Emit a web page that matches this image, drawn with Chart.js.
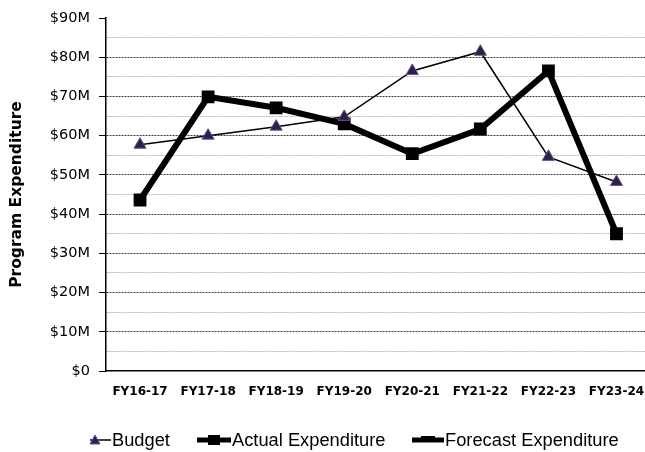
<!DOCTYPE html>
<html lang="en">
<head>
    <meta charset="UTF-8">
    <title>Program Expenditure</title>
    <style>
        body {
            margin: 0;
            background: #ffffff;
        }
        #wrap {
            width: 645px;
            height: 452px;
            overflow: hidden;
        }
    </style>
    <script src="https://cdn.jsdelivr.net/npm/chart.js"></script>
</head>
<body>

<div id="wrap">
    <canvas id="myChart" width="660" height="452"></canvas>
</div>

<script>
    // values in $M
    const categories = ['FY16-17', 'FY17-18', 'FY18-19', 'FY19-20', 'FY20-21', 'FY21-22', 'FY22-23', 'FY23-24'];
    const budget = [57.7, 60.0, 62.3, 64.8, 76.5, 81.4, 54.6, 48.2];
    const actual = [43.6, 69.9, 67.1, 63.0, 55.4, 61.7, 76.5, null];
    const forecast = [null, null, null, null, null, null, 76.5, 35.0];
    const yTicks = [0, 10, 20, 30, 40, 50, 60, 70, 80, 90];

    const WIDE = '"DejaVu Sans", sans-serif';
    const ARIAL = '"Liberation Sans", Arial, sans-serif';

    // legend under the plot, line + marker swatches
    const bottomLegend = {
        id: 'bottomLegend',
        afterDraw(chart) {
            const ctx = chart.ctx;
            const y = 440;
            const sets = chart.data.datasets;
            ctx.save();
            ctx.font = '18.3px ' + ARIAL;
            ctx.textBaseline = 'middle';

            // Budget
            ctx.strokeStyle = '#000';
            ctx.lineWidth = 1.5;
            ctx.beginPath(); ctx.moveTo(90, y); ctx.lineTo(111, y); ctx.stroke();
            ctx.beginPath();
            ctx.moveTo(95, y - 5); ctx.lineTo(100, y + 4); ctx.lineTo(90, y + 4); ctx.closePath();
            ctx.fillStyle = '#2b2140'; ctx.fill();
            ctx.strokeStyle = '#6b4c9a'; ctx.lineWidth = 1; ctx.stroke();
            ctx.fillStyle = '#000';
            ctx.fillText(sets[0].label, 112, y + 1);

            // Actual
            ctx.strokeStyle = '#000';
            ctx.lineWidth = 5;
            ctx.beginPath(); ctx.moveTo(197, y); ctx.lineTo(231, y); ctx.stroke();
            ctx.fillRect(208, y - 5, 12, 10);
            ctx.fillText(sets[1].label, 232, y + 1);

            // Forecast
            ctx.beginPath(); ctx.moveTo(412, y); ctx.lineTo(444, y); ctx.stroke();
            ctx.fillRect(421, y - 4, 14, 6);
            ctx.fillText(sets[2].label, 445, y + 1);
            ctx.restore();
        }
    };

    const ctx = document.getElementById('myChart').getContext('2d');

    new Chart(ctx, {
        type: 'line',
        data: {
            labels: categories,
            datasets: [{
                label: 'Budget',
                data: budget,
                borderColor: '#000000',
                borderWidth: 1.5,
                pointStyle: 'triangle',
                pointRadius: 7,
                pointBackgroundColor: '#2b2140',
                pointBorderColor: '#6b4c9a',
                pointBorderWidth: 1,
                tension: 0
            }, {
                label: 'Actual Expenditure',
                data: actual,
                borderColor: '#000000',
                borderWidth: 6,
                pointStyle: 'rect',
                pointRadius: 8,
                pointBackgroundColor: '#000000',
                pointBorderColor: '#000000',
                pointBorderWidth: 1.5,
                tension: 0
            }, {
                label: 'Forecast Expenditure',
                data: forecast,
                borderColor: '#000000',
                borderWidth: 6,
                pointStyle: 'rect',
                pointRadius: [0, 0, 0, 0, 0, 0, 0, 8],
                pointBackgroundColor: '#000000',
                pointBorderColor: '#000000',
                pointBorderWidth: 1.5,
                tension: 0
            }]
        },
        options: {
            responsive: false,
            animation: false,
            layout: {
                padding: { top: 18, left: 0, right: 0, bottom: 0 }
            },
            plugins: {
                legend: { display: false },
                tooltip: { enabled: false }
            },
            scales: {
                x: {
                    offset: true,
                    grid: { display: false },
                    border: { display: true, color: '#000', width: 1.5 },
                    ticks: {
                        color: '#000',
                        font: { family: WIDE, size: 12, weight: 'bold' },
                        padding: 6,
                        maxRotation: 0,
                        autoSkip: false
                    },
                    afterFit(scale) { scale.height = 81; }
                },
                y: {
                    min: 0,
                    max: 90,
                    afterBuildTicks(scale) {
                        const t = [];
                        yTicks.forEach((v, i) => {
                            t.push({ value: v });
                            if (i < yTicks.length - 1) t.push({ value: v + 5 });
                        });
                        scale.ticks = t;
                    },
                    border: { display: true, color: '#000', width: 1.5, dash: [2, 1] },
                    grid: {
                        tickLength: 7,
                        lineWidth: 1,
                        color(c) {
                            const v = c.tick ? c.tick.value : 0;
                            if (v === 0 || v === 90) return 'rgba(0,0,0,0)';
                            return v % 10 === 0 ? '#3a3a3a' : '#b8b8b8';
                        },
                        tickColor(c) {
                            const v = c.tick ? c.tick.value : 0;
                            return v % 10 === 0 ? '#000' : 'rgba(0,0,0,0)';
                        },
                        tickBorderDash: []
                    },
                    ticks: {
                        color: '#000',
                        font: { family: WIDE, size: 14.5 },
                        padding: 9,
                        autoSkip: false,
                        callback(v) {
                            return v % 10 === 0 ? '$' + v + (v === 0 ? '' : 'M') : '';
                        }
                    },
                    title: {
                        display: true,
                        text: 'Program Expenditure',
                        color: '#000',
                        font: { family: WIDE, size: 15.5, weight: 'bold' },
                        padding: { top: 8, bottom: 0 }
                    },
                    afterFit(scale) { scale.width = 106; }
                }
            }
        },
        plugins: [bottomLegend]
    });
</script>

</body>
</html>
